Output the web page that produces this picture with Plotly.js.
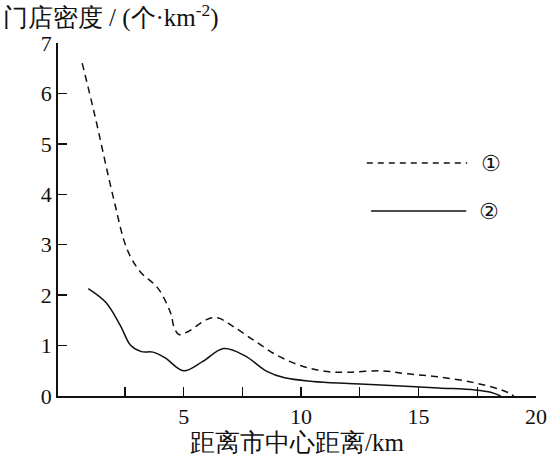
<!DOCTYPE html>
<html>
<head>
<meta charset="utf-8">
<script src="https://cdn.plot.ly/plotly-3.0.1.min.js"></script>
<style>html,body{margin:0;padding:0;background:#fff;}#chart{width:547px;height:458px;}</style>
</head>
<body>
<div id="chart"></div>
<script>
// Curve ① (dashed)
const x1 = [0.68, 1.2, 2.0, 2.6, 3.16, 3.9, 4.44, 4.6, 4.8, 5.2, 6.0, 6.45, 7.1, 8.0, 9.0, 10.0, 11.0, 12.0, 13.4, 14.5, 15.85, 17.3, 18.4, 18.8, 19.05];
const y1 = [6.6, 5.6, 3.95, 2.9, 2.46, 2.14, 1.65, 1.35, 1.22, 1.28, 1.52, 1.55, 1.38, 1.1, 0.8, 0.6, 0.49, 0.47, 0.5, 0.44, 0.38, 0.27, 0.14, 0.07, 0.0];
// Curve ② (solid)
const x2 = [0.94, 1.7, 2.3, 2.75, 3.2, 3.7, 4.2, 5.0, 5.8, 6.7, 7.6, 8.5, 9.3, 10.5, 12.0, 13.4, 15.85, 17.4, 18.1, 18.5];
const y2 = [2.13, 1.85, 1.4, 1.0, 0.88, 0.87, 0.76, 0.5, 0.68, 0.94, 0.8, 0.5, 0.36, 0.29, 0.25, 0.22, 0.16, 0.12, 0.07, 0.0];
const xTickVals = [5, 10, 15, 20];
const xTickText = ['5', '10', '15', '20'];
const xMinorTickVals = [2.5, 7.5, 12.5, 17.5];
const yTickVals = [0, 1, 2, 3, 4, 5, 6, 7];
const legendLabels = ['①', '②'];

const serif = 'Liberation Serif, Times New Roman, serif';
const circ = 'DejaVu Sans';

const traces = [
  {x: x1, y: y1, mode: 'lines', line: {color: '#111', width: 1.5, dash: '7px,5px', shape: 'spline', smoothing: 1}, hoverinfo: 'skip'},
  {x: x2, y: y2, mode: 'lines', line: {color: '#111', width: 1.5, shape: 'spline', smoothing: 1}, hoverinfo: 'skip'}
];

const layout = {
  width: 547, height: 458,
  margin: {l: 58, r: 11, t: 43, b: 62},
  paper_bgcolor: '#fff', plot_bgcolor: '#fff',
  showlegend: false,
  font: {family: serif, color: '#111', size: 20},
  title: {
    text: '门店密度 / (个·km<sup>-2</sup>)',
    font: {family: serif, size: 25, color: '#111'},
    x: 0.005, xanchor: 'left', xref: 'container',
    y: 0.962, yanchor: 'middle', yref: 'container'
  },
  xaxis: {
    range: [-0.35, 20], showgrid: false, zeroline: false,
    showline: true, linecolor: '#111', linewidth: 1.8,
    tickmode: 'array', tickvals: xTickVals, ticktext: xTickText,
    ticks: 'inside', ticklen: 9, tickwidth: 1.3, tickcolor: '#111',
    minor: {tickmode: 'array', tickvals: xMinorTickVals, ticks: 'inside', ticklen: 9, tickwidth: 1.3, tickcolor: '#111', showgrid: false},
    tickfont: {family: serif, size: 22},
    title: {text: '距离市中心距离/km', font: {family: serif, size: 25}, standoff: 2}
  },
  yaxis: {
    range: [0, 7], showgrid: false, zeroline: false,
    showline: true, linecolor: '#111', linewidth: 1.8,
    tickmode: 'array', tickvals: yTickVals,
    ticks: 'inside', ticklen: 9, tickwidth: 1.3, tickcolor: '#111',
    tickfont: {family: serif, size: 22}
  },
  shapes: [
    {type: 'line', xref: 'paper', yref: 'paper', x0: 0.646, x1: 0.856, y0: 0.66, y1: 0.66, line: {color: '#111', width: 1.5, dash: '6px,5px'}},
    {type: 'line', xref: 'paper', yref: 'paper', x0: 0.655, x1: 0.854, y0: 0.524, y1: 0.524, line: {color: '#111', width: 1.5}}
  ],
  annotations: [
    {xref: 'paper', yref: 'paper', x: 0.905, y: 0.66, text: legendLabels[0], showarrow: false, font: {family: circ, size: 22, color: '#111'}, xanchor: 'center', yanchor: 'middle'},
    {xref: 'paper', yref: 'paper', x: 0.902, y: 0.524, text: legendLabels[1], showarrow: false, font: {family: circ, size: 22, color: '#111'}, xanchor: 'center', yanchor: 'middle'}
  ]
};

Plotly.newPlot('chart', traces, layout, {staticPlot: true, displayModeBar: false});
</script>
</body>
</html>
